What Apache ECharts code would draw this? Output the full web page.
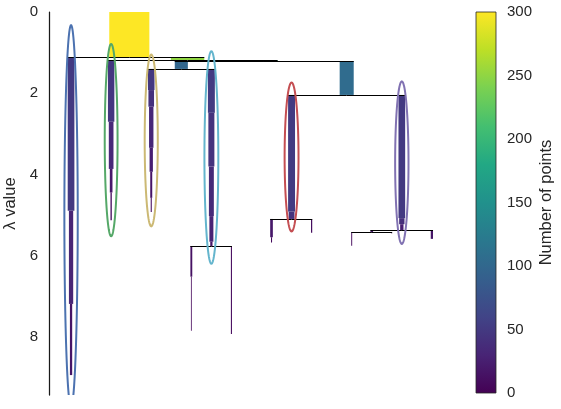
<!DOCTYPE html>
<html><head><meta charset="utf-8">
<script src="https://cdn.jsdelivr.net/npm/echarts@6/dist/echarts.min.js"></script>
<style>html,body{margin:0;padding:0;background:#fff}#c{width:561px;height:409px}</style>
</head><body><div id="c"></div>
<script>
// ---------- data (condensed tree) ----------
const clusterNames  = ['root','blue','C2','green','C4','C5','C6','gold','cyan','L3','L4','red','purple','L5','L6','PL','PR','L7','L8'];
const clusterParent = [null,'root','root','C2','C2','C4','C4','C5','C5','cyan','cyan','C6','C6','red','red','purple','purple','PL','PL'];
const leafOrder     = ['blue','green','gold','L3','L4','L5','L6','L7','L8','PR'];
const birthLambda   = [0,1.107,1.107,1.18,1.18,1.205,1.205,1.40,1.40,5.755,5.755,2.04,2.04,5.09,5.09,5.37,5.37,5.42,5.42];
// points in the cluster for each icicle step, and lambda where each step ends
const stepSizes = [
  [300],[50,32,17],[250],[48,35,20,10],[203],[98],[105],
  [49,42,33,25,15,8],[52,45,37,30,17],[14,6],[8],
  [52,44],[50,40,25],[20,8],[9],[20],[17],[7],[5]
];
const stepEnds = [
  [1.107],[4.89,7.18,8.93],[1.18],[2.70,3.86,4.44,5.12],[1.205],[1.40],[2.04],
  [1.92,2.33,3.34,3.93,4.57,4.92],[2.48,3.80,5.02,5.65,5.755],[6.51,7.84],[7.92],
  [4.91,5.09],[5.07,5.22,5.37],[5.54,5.67],[5.43],[5.42],[5.58],[5.75],[5.45]
];
const selectedClusters = ['blue','green','gold','cyan','red','purple'];
const selectedColors   = ['#4c72b0','#55a868','#ccb974','#64b5cd','#c44e52','#8172b2'];
const lambdaTicks   = [0,2,4,6,8];
const colorbarTicks = [0,50,100,150,200,250,300];
const maxPoints = 300;
const viridisStops = ['#440154','#482475','#414487','#355f8d','#2a788e','#21918c','#22a884','#44bf70','#7ad151','#bddf26','#fde725'];

// ---------- helpers ----------
function hex2rgb(h){return [1,3,5].map(i=>parseInt(h.substr(i,2),16));}
function viridis(t){
  t=Math.max(0,Math.min(1,t));
  const n=viridisStops.length-1, f=t*n, i=Math.min(n-1,Math.floor(f)), r=f-i;
  const a=hex2rgb(viridisStops[i]), b=hex2rgb(viridisStops[i+1]);
  return 'rgb('+a.map((v,k)=>Math.round(v+(b[k]-v)*r)).join(',')+')';
}
const idx = {}; clusterNames.forEach((n,i)=>idx[n]=i);
const leafSep = maxPoints;
const xPos = {};
function getX(name){
  if (xPos[name]!==undefined) return xPos[name];
  const li = leafOrder.indexOf(name);
  if (li>=0) return xPos[name]=li*leafSep;
  const kids = clusterNames.filter((n,i)=>clusterParent[i]===name);
  return xPos[name]=(getX(kids[0])+getX(kids[1]))/2;
}
clusterNames.forEach(getX);

const barData=[], lineData=[], ellData=[];
clusterNames.forEach((n,i)=>{
  let l0=birthLambda[i];
  stepSizes[i].forEach((s,j)=>{ barData.push([xPos[n], s, l0, stepEnds[i][j], s]); l0=stepEnds[i][j]; });
  const p=clusterParent[i];
  if(p){
    const sign=Math.sign(xPos[n]-xPos[p]);
    lineData.push([xPos[p], xPos[n]+sign*stepSizes[i][0]/2, birthLambda[i]]);
  }
});
selectedClusters.forEach((n,k)=>{
  const i=idx[n]; const ends=stepEnds[i];
  const top=ends[ends.length-1], bot=birthLambda[i];
  ellData.push([xPos[n], 2*stepSizes[i][0], (top+bot)/2, 1.2*(top-bot), k]);
});

const FONT='"Liberation Sans", Arial, sans-serif';
const TXT='#262626';
const chart=echarts.init(document.getElementById('c'),null,{renderer:'canvas'});
chart.setOption({
  animation:false,
  backgroundColor:'#fff',
  grid:[
    {left:49,right:110.4,top:12,bottom:14,outerBoundsMode:'none',containLabel:false},
    {left:476,width:20,top:12,height:381,outerBoundsMode:'none',containLabel:false}
  ],
  xAxis:[
    {gridIndex:0,type:'value',min:-165,max:2840,show:false},
    {gridIndex:1,type:'value',min:0,max:1,show:false}
  ],
  yAxis:[
    {gridIndex:0,type:'value',min:0,max:9.42,inverse:true,
     axisLine:{show:true,onZero:false,lineStyle:{color:'#1a1a1a',width:1.25}},
     axisTick:{show:false},splitLine:{show:false},
     axisLabel:{customValues:lambdaTicks,color:TXT,fontSize:15,fontFamily:FONT,margin:11},
     name:'λ value',nameLocation:'middle',nameGap:27.5,nameRotate:90,
     nameTextStyle:{color:TXT,fontSize:16.5,fontFamily:FONT}},
    {gridIndex:1,type:'value',min:0,max:300,position:'right',
     axisLine:{show:false,onZero:false},axisTick:{show:false},splitLine:{show:false},
     axisLabel:{customValues:colorbarTicks,color:TXT,fontSize:15,fontFamily:FONT,margin:11},
     name:'Number of points',nameLocation:'middle',nameGap:42,nameRotate:90,
     nameTextStyle:{color:TXT,fontSize:16.5,fontFamily:FONT}}
  ],
  series:[
    {type:'custom',xAxisIndex:0,yAxisIndex:0,clip:true,data:barData,z:2,
     renderItem:(params,api)=>{
       const x=api.value(0),w=api.value(1),a=api.coord([x-w/2,api.value(2)]),b=api.coord([x+w/2,api.value(3)]);
       return {type:'rect',shape:{x:Math.min(a[0],b[0]),y:Math.min(a[1],b[1]),width:Math.abs(b[0]-a[0]),height:Math.abs(b[1]-a[1])},
               style:{fill:viridis(api.value(4)/maxPoints)}};
     }},
    {type:'custom',xAxisIndex:0,yAxisIndex:0,clip:true,data:lineData,z:3,
     renderItem:(params,api)=>{
       const a=api.coord([api.value(0),api.value(2)]),b=api.coord([api.value(1),api.value(2)]);
       const y=Math.round(a[1])+0.5;
       return {type:'line',shape:{x1:a[0],y1:y,x2:b[0],y2:y},style:{stroke:'#000',lineWidth:1}};
     }},
    {type:'custom',xAxisIndex:0,yAxisIndex:0,clip:true,data:ellData,z:4,
     renderItem:(params,api)=>{
       const cx=api.value(0),w=api.value(1),cy=api.value(2),h=api.value(3),k=api.value(4);
       const pts=[];
       for(let t=0;t<=120;t++){const a=t/120*Math.PI*2; pts.push(api.coord([cx+w/2*Math.cos(a),cy+h/2*Math.sin(a)]));}
       return {type:'polygon',shape:{points:pts},style:{fill:'none',stroke:selectedColors[k],lineWidth:2}};
     }},
    {type:'custom',xAxisIndex:1,yAxisIndex:1,data:[[0,maxPoints]],
     renderItem:(params,api)=>{
       const a=api.coord([0,0]),b=api.coord([1,api.value(1)]);
       const stops=viridisStops.map((c,i)=>({offset:i/(viridisStops.length-1),color:c}));
       return {type:'rect',shape:{x:a[0],y:b[1],width:b[0]-a[0],height:a[1]-b[1]},
               style:{fill:new echarts.graphic.LinearGradient(0,1,0,0,stops),stroke:TXT,lineWidth:0.8}};
     }}
  ]
});
</script></body></html>
